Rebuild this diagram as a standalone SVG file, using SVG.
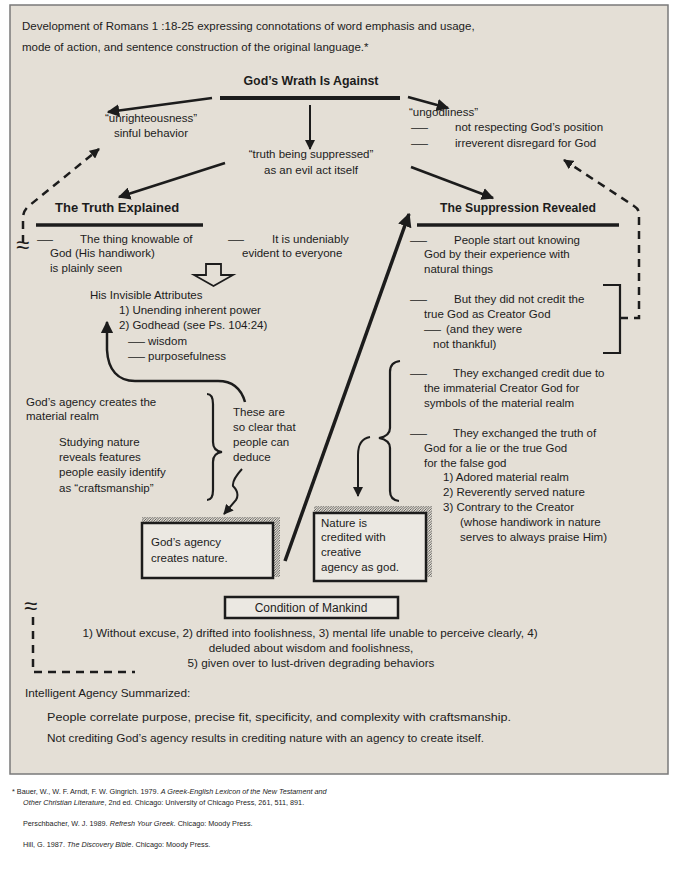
<svg xmlns="http://www.w3.org/2000/svg" width="680" height="871" viewBox="0 0 680 871">
<defs>
<style>
.t{font-family:"Liberation Sans",Arial,sans-serif;font-size:11.5px;fill:#1c1c1c}
.c{text-anchor:middle}
.b{font-weight:bold;font-size:13px}
.s{font-size:11.7px}
.f{font-size:7.25px}
.i{font-style:italic}
.ln{stroke:#1c1c1c;fill:none}
.box{fill:#ebe8e2;stroke:#1c1c1c;stroke-width:2.5}
.dash{stroke:#1c1c1c;fill:none;stroke-width:2.5;stroke-dasharray:8 6}
.aq{font-size:24px}
</style>
<marker id="ah" viewBox="0 0 10 10" refX="9" refY="5" markerWidth="5" markerHeight="5" orient="auto" markerUnits="strokeWidth">
<path d="M0,0 L10,5 L0,10 Z" fill="#1c1c1c"/>
</marker>
<marker id="ah2" viewBox="0 0 10 10" refX="9" refY="5" markerWidth="4" markerHeight="4" orient="auto" markerUnits="strokeWidth">
<path d="M0,0 L10,5 L0,10 Z" fill="#1c1c1c"/>
</marker>
<pattern id="hatch" patternUnits="userSpaceOnUse" width="2.5" height="2.5">
<path d="M-0.5,3 L3,-0.5" stroke="#444" stroke-width="0.8"/>
</pattern>
</defs>
<rect width="680" height="871" fill="#ffffff"/>
<rect x="10" y="5" width="658" height="769" fill="#e4dfd6" stroke="#7a7a7a" stroke-width="1.5"/>

<g id="intro">
<text class="t" x="22" y="30">Development of Romans 1 :18-25 expressing connotations of word emphasis and usage,</text>
<text class="t" x="22" y="51">mode of action, and sentence construction of the original language.*</text>
</g>

<g id="wrath">
<text class="t b c" x="311" y="85" textLength="135" lengthAdjust="spacingAndGlyphs">God’s Wrath Is Against</text>
<line class="ln" x1="220" y1="98" x2="400" y2="98" stroke-width="4"/>
</g>

<g id="unrighteousness">
<text class="t c" x="151" y="122">“unrighteousness”</text>
<text class="t c" x="151" y="137">sinful behavior</text>
</g>

<g id="ungodliness">
<text class="t" x="409" y="116">“ungodliness”</text>
<text class="t" x="411" y="131" textLength="17" lengthAdjust="spacingAndGlyphs">—</text>
<text class="t" x="455" y="131">not respecting God’s position</text>
<text class="t" x="411" y="147" textLength="17" lengthAdjust="spacingAndGlyphs">—</text>
<text class="t" x="455" y="147">irreverent disregard for God</text>
</g>

<g id="suppressed">
<text class="t c" x="311" y="158">“truth being suppressed”</text>
<text class="t c" x="311" y="174">as an evil act itself</text>
</g>

<g id="truth-explained">
<text class="t b" x="55" y="212">The Truth Explained</text>
<line class="ln" x1="36" y1="225" x2="203" y2="225" stroke-width="3.5"/>
<text class="t" x="37" y="243" textLength="16" lengthAdjust="spacingAndGlyphs">—</text>
<text class="t" x="80" y="243">The thing knowable of</text>
<text class="t" x="50" y="257">God (His handiwork)</text>
<text class="t" x="50" y="272">is plainly seen</text>
<text class="t" x="228" y="243" textLength="16" lengthAdjust="spacingAndGlyphs">—</text>
<text class="t" x="272" y="243">It is undeniably</text>
<text class="t" x="242" y="257">evident to everyone</text>
<polygon points="206,264 221,264 221,275 233,275 213.5,286 194,275 206,275" fill="none" stroke="#1c1c1c" stroke-width="1.8"/>
</g>

<g id="attributes">
<text class="t" x="90" y="299">His Invisible Attributes</text>
<text class="t" x="119" y="314">1)  Unending inherent power</text>
<text class="t" x="119" y="329">2) Godhead (see Ps. 104:24)</text>
<text class="t" x="128" y="345" textLength="17" lengthAdjust="spacingAndGlyphs">—</text>
<text class="t" x="148" y="345">wisdom</text>
<text class="t" x="128" y="360" textLength="17" lengthAdjust="spacingAndGlyphs">—</text>
<text class="t" x="148" y="360">purposefulness</text>
</g>

<g id="gods-agency-text">
<text class="t" x="26" y="406">God’s agency creates the</text>
<text class="t" x="26" y="420">material realm</text>
<text class="t" x="59" y="446">Studying nature</text>
<text class="t" x="59" y="461">reveals features</text>
<text class="t" x="59" y="476">people easily identify</text>
<text class="t" x="59" y="492">as “craftsmanship”</text>
</g>

<g id="deduce">
<text class="t" x="233" y="416">These are</text>
<text class="t" x="233" y="431">so clear that</text>
<text class="t" x="233" y="446">people can</text>
<text class="t" x="233" y="461">deduce</text>
</g>

<g id="box-gods-agency">
<rect x="142" y="517" width="138" height="60" fill="url(#hatch)"/>
<rect class="box" x="142" y="523" width="131" height="55"/>
<text class="t" x="151" y="546">God’s agency</text>
<text class="t" x="151" y="562">creates nature.</text>
</g>

<g id="box-nature">
<rect x="314" y="506" width="118" height="71" fill="url(#hatch)"/>
<rect class="box" x="314" y="513" width="112" height="68"/>
<text class="t" x="321" y="527">Nature is</text>
<text class="t" x="321" y="541">credited with</text>
<text class="t" x="321" y="556">creative</text>
<text class="t" x="321" y="571">agency as god.</text>
</g>

<g id="suppression-revealed">
<text class="t b" x="440" y="212" textLength="156" lengthAdjust="spacingAndGlyphs">The Suppression Revealed</text>
<line class="ln" x1="417" y1="225" x2="619" y2="225" stroke-width="3.5"/>
<text class="t" x="410" y="244" textLength="17" lengthAdjust="spacingAndGlyphs">—</text>
<text class="t" x="454" y="244">People start out knowing</text>
<text class="t" x="424" y="258">God by their experience with</text>
<text class="t" x="424" y="273">natural things</text>
<text class="t" x="410" y="303" textLength="17" lengthAdjust="spacingAndGlyphs">—</text>
<text class="t" x="454" y="303">But they did not credit the</text>
<text class="t" x="424" y="318">true God as Creator God</text>
<text class="t" x="424" y="333" textLength="17" lengthAdjust="spacingAndGlyphs">—</text>
<text class="t" x="446" y="333">(and they were</text>
<text class="t" x="433" y="348">not thankful)</text>
<text class="t" x="410" y="377" textLength="17" lengthAdjust="spacingAndGlyphs">—</text>
<text class="t" x="453" y="377">They exchanged credit due to</text>
<text class="t" x="424" y="392">the immaterial Creator God for</text>
<text class="t" x="424" y="407">symbols of the material realm</text>
<text class="t" x="410" y="437" textLength="17" lengthAdjust="spacingAndGlyphs">—</text>
<text class="t" x="453" y="437">They exchanged the truth of</text>
<text class="t" x="424" y="452">God for a lie or the true God</text>
<text class="t" x="424" y="467">for the false god</text>
<text class="t" x="443" y="481">1)  Adored material realm</text>
<text class="t" x="443" y="496">2)  Reverently served nature</text>
<text class="t" x="443" y="511">3)  Contrary to the Creator</text>
<text class="t" x="460" y="526">(whose handiwork in nature</text>
<text class="t" x="460" y="541">serves to always praise Him)</text>
</g>

<g id="condition">
<rect class="box" x="225" y="597" width="173" height="21" stroke-width="2"/>
<text class="t c" x="311" y="612" style="font-size:12px">Condition of Mankind</text>
<text class="t s c" x="310" y="637">1) Without excuse, 2) drifted into foolishness, 3) mental life unable to perceive clearly, 4)</text>
<text class="t s c" x="311" y="652">deluded about wisdom and foolishness,</text>
<text class="t s c" x="311" y="667">5) given over to lust-driven degrading behaviors</text>
</g>

<g id="summary">
<text class="t" x="25" y="697" style="font-size:11.8px">Intelligent Agency Summarized:</text>
<text class="t" x="47" y="721" textLength="464" lengthAdjust="spacingAndGlyphs">People correlate purpose, precise fit, specificity, and complexity with craftsmanship.</text>
<text class="t" x="47" y="742" textLength="437" lengthAdjust="spacingAndGlyphs">Not crediting God’s agency results in crediting nature with an agency to create itself.</text>
</g>

<g id="footnotes">
<text class="t f" x="12" y="794">* Bauer, W., W. F. Arndt, F. W. Gingrich. 1979. <tspan class="i">A Greek-English Lexicon of the New Testament and</tspan></text>
<text class="t f" x="23" y="805"><tspan class="i">Other Christian Literature</tspan>, 2nd ed. Chicago: University of Chicago Press, 261, 511, 891.</text>
<text class="t f" x="23" y="826">Perschbacher, W. J. 1989. <tspan class="i">Refresh Your Greek</tspan>. Chicago: Moody Press.</text>
<text class="t f" x="23" y="847">Hill, G. 1987. <tspan class="i">The Discovery Bible</tspan>. Chicago: Moody Press.</text>
</g>

<g id="connectors">
<line class="ln" x1="212" y1="98" x2="108" y2="112" stroke-width="2.5" marker-end="url(#ah)"/>
<line class="ln" x1="408" y1="97" x2="448" y2="108" stroke-width="2.5" marker-end="url(#ah)"/>
<line class="ln" x1="310" y1="105" x2="310" y2="149" stroke-width="2" marker-end="url(#ah)"/>
<line class="ln" x1="225" y1="163" x2="119" y2="197" stroke-width="2.5" marker-end="url(#ah)"/>
<line class="ln" x1="411" y1="167" x2="493" y2="198" stroke-width="2.5" marker-end="url(#ah)"/>
<path class="dash" d="M23,243 L23,218 Q23,210 30,205 L99,149" marker-end="url(#ah2)"/>
<text class="t aq" x="16" y="253">≈</text>
<path class="dash" d="M620,318 L639,318 L639,214 Q639,209 634,206 L564,160" marker-end="url(#ah2)"/>
<path class="ln" d="M603,285 L620,285 L620,353 L603,353" stroke-width="2.2"/>
<path class="ln" d="M245,402 C241,388 232,381 218,381 L135,381 C118,381 108,370 107,350 L107,322" stroke-width="2.5" marker-end="url(#ah)"/>
<path class="ln" d="M207,394 Q213,394 213,404 L213,442 Q213,451 222,452 Q213,453 213,462 L213,490 Q213,500 207,500" stroke-width="2.2"/>
<path class="ln" d="M242,469 Q232,480 233,486 Q240,493 236,500 L224,514" stroke-width="2" marker-end="url(#ah)"/>
<line class="ln" x1="285" y1="561" x2="409" y2="214" stroke-width="3.5" marker-end="url(#ah2)"/>
<path class="ln" d="M400,361 Q390,362 390,372 L390,428 Q390,436 379,438 Q390,440 390,448 L390,491 Q390,500 399,501" stroke-width="2.2"/>
<path class="ln" d="M370,437 Q358,439 358,455 L358,496" stroke-width="2" marker-end="url(#ah)"/>
<text class="t aq" x="24" y="614">≈</text>
<path class="dash" d="M33,617 L33,672 L135,672"/>
</g>
</svg>
